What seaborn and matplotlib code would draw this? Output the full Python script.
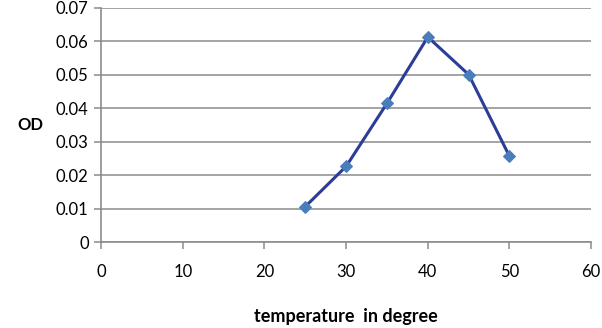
import matplotlib
matplotlib.use("Agg")
import matplotlib.pyplot as plt
import seaborn as sns
import pandas as pd

temperature = [25, 30, 35, 40, 45, 50]
od = [0.0106, 0.0226, 0.0414, 0.0612, 0.0500, 0.0256]
x_ticks = [0, 10, 20, 30, 40, 50, 60]
y_ticks = [0, 0.01, 0.02, 0.03, 0.04, 0.05, 0.06, 0.07]
y_tick_labels = ["0", "0.01", "0.02", "0.03", "0.04", "0.05", "0.06", "0.07"]

sns.set_theme(style="white")
plt.rcParams['font.family'] = ['Lato', 'DejaVu Sans']

df = pd.DataFrame({"temperature": temperature, "OD": od})

fig = plt.figure(figsize=(6.02, 3.28), dpi=100)
ax = fig.add_axes([0.168, 0.262, 0.814, 0.715])

sns.lineplot(data=df, x="temperature", y="OD", ax=ax, color="#2b3d97",
             linewidth=2.2, marker="D", markersize=6.5,
             markerfacecolor="#4a7ebb", markeredgecolor="#4a7ebb", zorder=3)

ax.set_xlim(0, 60)
ax.set_ylim(0, 0.07)
ax.set_xticks(x_ticks)
ax.set_xticklabels([str(t) for t in x_ticks])
ax.set_yticks(y_ticks)
ax.set_yticklabels(y_tick_labels)

ax.grid(axis="y", color="#8c8c8c", linewidth=1.1)
ax.grid(axis="x", visible=False)
ax.set_axisbelow(True)
for s in ["top", "right"]:
    ax.spines[s].set_visible(False)
for s in ["left", "bottom"]:
    ax.spines[s].set_color("#8c8c8c")
    ax.spines[s].set_linewidth(1.2)

ax.tick_params(axis="both", which="major", direction="out", length=5, width=1.1,
               color="#8c8c8c", labelsize=12, labelcolor="#000000")
ax.tick_params(axis="x", pad=11, bottom=True)
ax.tick_params(axis="y", pad=4, left=True)

ax.set_xlabel("temperature  in degree", fontsize=13, fontweight="bold",
              color="#000000", labelpad=20)
ax.set_ylabel("OD", fontsize=12, fontweight="bold", rotation=0,
              color="#000000", va="center", ha="center")
ax.yaxis.set_label_coords(-0.145, 0.5)

fig.savefig("out.png", dpi=100)
